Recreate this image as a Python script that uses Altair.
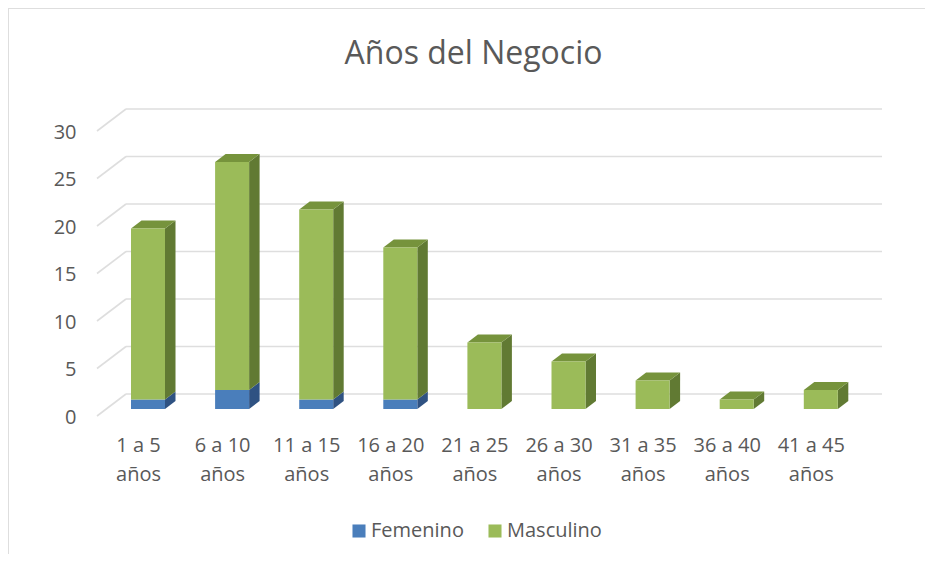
import altair as alt
import pandas as pd

categories = ["1 a 5 años", "6 a 10 años", "11 a 15 años", "16 a 20 años", "21 a 25 años",
              "26 a 30 años", "31 a 35 años", "36 a 40 años", "41 a 45 años"]
femenino = [1, 2, 1, 1, 0, 0, 0, 0, 0]
masculino = [18, 24, 20, 16, 7, 5, 3, 1, 2]
y_ticks = [0, 5, 10, 15, 20, 25, 30]
series_names = ["Femenino", "Masculino"]

W, H = 917, 546
FONT = "Open Sans"
TEXT = "#595959"
GRID = "#DEDEDE"
BLUE, GREEN = "#4A7EBB", "#9BBB59"
BLUE_SIDE, GREEN_SIDE, GREEN_TOP = "#2F5282", "#617A33", "#76933C"

# scale geometry (data units per category / per count)
PX_CAT, PX_VAL = 84.1, 9.5
X0, Y0 = 140, 401
x_dom = [-X0 / PX_CAT, (W - X0) / PX_CAT]
y_dom = [(Y0 - H) / PX_VAL, Y0 / PX_VAL]
HALF = 17 / PX_CAT
DX, DY = 10.5 / PX_CAT, 8 / PX_VAL
WALL_L, WALL_B, WALL_R = -51 / PX_CAT, -22 / PX_CAT, 734 / PX_CAT
WALL_UP, FRONT_DOWN = 15 / PX_VAL, -7 / PX_VAL

fronts, sides, tops = [], [], []
for i, (f, m) in enumerate(zip(femenino, masculino)):
    l, r = i - HALF, i + HALF
    for name, lo, hi in (("Femenino", 0, f), ("Masculino", f, f + m)):
        if hi <= lo:
            continue
        fronts.append(dict(x=l, x2=r, y=lo, y2=hi, serie=name))
        for xx, off in ((r, 0), (r + DX, DY)):
            sides.append(dict(x=xx, y=lo + off, y2=hi + off, g=f"{i}{name}", serie=name))
    t = f + m
    for xx, a, b in ((l, t, t), (l + DX, t, t + DY), (r, t, t + DY), (r + DX, t + DY, t + DY)):
        tops.append(dict(x=xx, y=a, y2=b, g=i))
fronts, sides, tops = pd.DataFrame(fronts), pd.DataFrame(sides), pd.DataFrame(tops)

grid = pd.DataFrame(
    [dict(x=WALL_L, x2=WALL_B, y=v + FRONT_DOWN, y2=v + WALL_UP) for v in y_ticks]
    + [dict(x=WALL_B, x2=WALL_R, y=v + WALL_UP, y2=v + WALL_UP) for v in y_ticks]
)

xs = alt.Scale(domain=x_dom, nice=False, zero=False)
ys = alt.Scale(domain=y_dom, nice=False, zero=False)

def split_label(c):
    a, b = c.rsplit(" ", 1)
    return [a, b]

label_expr = "[" + ",".join("['%s','%s']" % tuple(split_label(c)) for c in categories) + "][datum.value]"

x_axis = alt.Axis(values=list(range(len(categories))), labelExpr=label_expr, title=None, domain=False,
                  ticks=False, grid=False, offset=-(H - 437), labelPadding=0, labelBaseline="middle",
                  labelOffset=-10, labelFont=FONT, labelFontSize=20, labelColor=TEXT, labelLineHeight=29.5,
                  labelOverlap=False, labelFlush=False)
y_axis = alt.Axis(values=y_ticks, title=None, domain=False, ticks=False, grid=False, offset=-68,
                  labelPadding=0, labelOffset=8, labelFont=FONT, labelFontSize=20, labelColor=TEXT)

X = alt.X("x:Q", scale=xs, axis=x_axis)
Y = alt.Y("y:Q", scale=ys, axis=y_axis, stack=False)

grid_layer = alt.Chart(grid).mark_rule(color=GRID, strokeWidth=1.6).encode(X, x2="x2:Q", y=Y, y2="y2:Q")

border = pd.DataFrame([{"k": 0}])
top_line = alt.Chart(border).mark_rule(color=GRID, strokeWidth=2).encode(
    x=alt.value(0), x2=alt.value(W), y=alt.value(0))
left_line = alt.Chart(border).mark_rule(color=GRID, strokeWidth=2).encode(
    x=alt.value(0), y=alt.value(0), y2=alt.value(H))

def face(df, color):
    return alt.Chart(df).mark_area(color=color, opacity=1, line=False).encode(
        X, Y, y2="y2:Q", detail="g:N")

side_b = face(sides[sides.serie == "Femenino"], BLUE_SIDE)
side_g = face(sides[sides.serie == "Masculino"], GREEN_SIDE)
top_g = face(tops, GREEN_TOP)

front = alt.Chart(fronts).mark_rect().encode(
    X, x2="x2:Q", y=Y, y2="y2:Q",
    color=alt.Color("serie:N", scale=alt.Scale(domain=series_names, range=[BLUE, GREEN]),
                    legend=alt.Legend(title=None, orient="none", legendX=341, legendY=513,
                                      direction="horizontal", symbolType="square", symbolSize=170,
                                      symbolStrokeWidth=0, labelFont=FONT, labelFontSize=20,
                                      labelColor=TEXT, columnPadding=21, labelOffset=2, symbolOpacity=1)),
)

chart = alt.layer(top_line, left_line, grid_layer, side_b, side_g, top_g, front).properties(
    width=W, height=H, padding=0, autosize=alt.AutoSizeParams(type="none"), background="white",
    title=alt.TitleParams("Años del Negocio", font=FONT, fontSize=32, fontWeight="normal", color=TEXT,
                          anchor="middle", dx=7, offset=-64),
).configure_view(stroke=None)

chart.save("out.html", embed_options={"renderer": "svg", "actions": False})
